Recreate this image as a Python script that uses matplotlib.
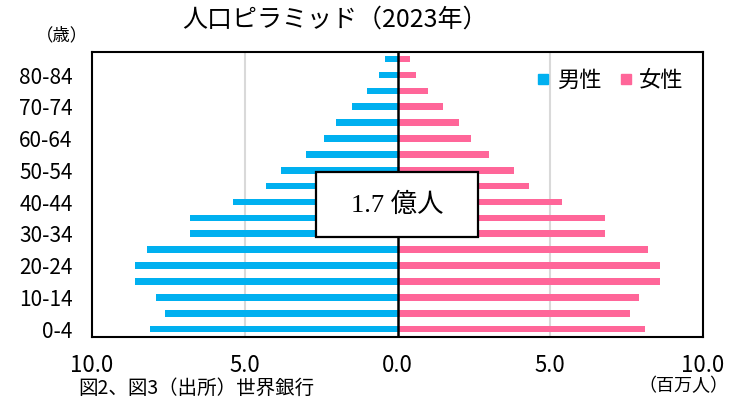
import matplotlib
matplotlib.use("Agg")
import matplotlib.pyplot as plt
from matplotlib.lines import Line2D
from matplotlib.patches import Rectangle
import numpy as np

plt.rcParams['font.family'] = ['Noto Sans CJK JP', 'DejaVu Sans']

age_groups = ['0-4', '5-9', '10-14', '15-19', '20-24', '25-29', '30-34', '35-39',
              '40-44', '45-49', '50-54', '55-59', '60-64', '65-69', '70-74', '75-79',
              '80-84', '85+']
male = [8.1, 7.6, 7.9, 8.6, 8.6, 8.2, 6.8, 6.8, 5.4, 4.3, 3.8, 3.0, 2.4, 2.0, 1.5, 1.0, 0.6, 0.4]
female = [8.1, 7.6, 7.9, 8.6, 8.6, 8.2, 6.8, 6.8, 5.4, 4.3, 3.8, 3.0, 2.4, 2.0, 1.5, 1.0, 0.6, 0.4]
x_ticks = [-10, -5, 0, 5, 10]
x_tick_labels = ['10.0', '5.0', '0.0', '5.0', '10.0']
total_label = '1.7 億人'

male_color = '#00B0F0'
female_color = '#FF6699'

fig = plt.figure(figsize=(7.42, 4.00), dpi=100)
ax = fig.add_axes([92/742, 1-337/400, (703-92)/742, (337-52)/400])

y = np.arange(len(age_groups))
ax.barh(y, -np.array(male), height=0.42, color=male_color, zorder=2)
ax.barh(y, female, height=0.42, color=female_color, zorder=2)

ax.set_xlim(-10, 10)
ax.set_ylim(-0.5, len(age_groups) - 0.55)
ax.set_xticks(x_ticks)
ax.set_xticklabels(x_tick_labels, fontsize=16)
ax.set_yticks(y[::2])
ax.set_yticklabels(age_groups[::2], fontsize=15)
ax.tick_params(axis='both', length=0)
ax.tick_params(axis='x', pad=12)
ax.tick_params(axis='y', pad=14)

for xv in [-5, 5]:
    ax.axvline(xv, color='#D9D9D9', lw=1.5, zorder=1)
ax.axvline(0, color='black', lw=1.8, zorder=3)

for sp in ax.spines.values():
    sp.set_color('black')
    sp.set_linewidth(1.5)

# summary box
rect = Rectangle((0.3666, 0.351), 0.2651, 0.228, transform=ax.transAxes,
                 facecolor='white', edgecolor='black', lw=1.6, zorder=5)
ax.add_patch(rect)
ax.text(0.499, 0.463, total_label, transform=ax.transAxes, ha='center', va='center',
        fontsize=19, family=['Liberation Serif', 'Noto Sans CJK JP'], zorder=6)

# legend
handles = [Line2D([], [], marker='s', ls='none', color=male_color, markersize=7),
           Line2D([], [], marker='s', ls='none', color=female_color, markersize=7)]
ax.legend(handles, ['男性', '女性'], loc='center right', bbox_to_anchor=(0.99, 0.90),
          ncol=2, frameon=False, fontsize=16, handlelength=0.6, handletextpad=0.3,
          columnspacing=0.8, borderpad=0.1)

# titles and notes
fig.text(335/742, 1-20/400, '人口ピラミッド（2023年）', ha='center', va='center', fontsize=18)
fig.text(62/742, 1-35/400, '（歳）', ha='center', va='center', fontsize=12.5)
fig.text(683/742, 1-386/400, '（百万人）', ha='center', va='center', fontsize=13)
fig.text(78/742, 1-399/400, '図2、図3（出所）世界銀行', ha='left', va='bottom', fontsize=14)

fig.savefig('out.png', dpi=100)
